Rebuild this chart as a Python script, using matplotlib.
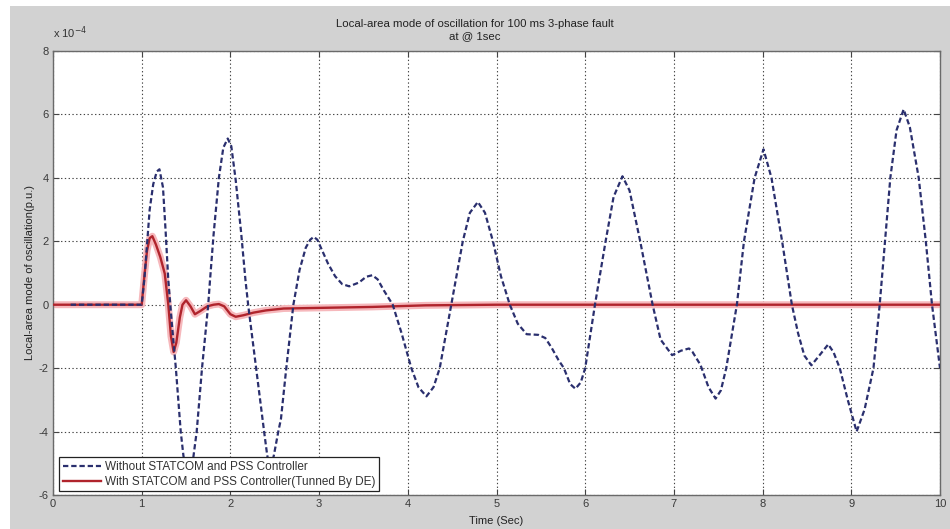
import matplotlib
matplotlib.use("Agg")
import matplotlib.pyplot as plt
from matplotlib.patches import Rectangle
from matplotlib.ticker import FuncFormatter

plt.rcParams['font.family'] = ['Liberation Sans', 'DejaVu Sans']

SCALE = 1e-4

# Without STATCOM and PSS Controller (values in units of 1e-4 p.u.)
t_without = [0.2, 1.0, 1.03, 1.06, 1.09, 1.13, 1.17, 1.20, 1.24, 1.27, 1.30, 1.34, 1.385,
             1.44, 1.47, 1.50, 1.53, 1.56, 1.585, 1.62, 1.68, 1.75, 1.77, 1.81, 1.87,
             1.92, 1.97, 2.01, 2.06, 2.12, 2.17, 2.20, 2.29, 2.38, 2.415, 2.45, 2.49,
             2.54, 2.57, 2.63, 2.71, 2.78, 2.85, 2.90, 2.94, 2.98, 3.02, 3.10, 3.18,
             3.26, 3.34, 3.45, 3.53, 3.60, 3.66, 3.73, 3.83, 3.93, 4.04, 4.12, 4.21,
             4.29, 4.36, 4.49, 4.62, 4.70, 4.79, 4.87, 4.96, 5.05, 5.15, 5.24, 5.34,
             5.47, 5.55, 5.62, 5.70, 5.76, 5.83, 5.89, 5.95, 6.00, 6.11, 6.23, 6.32,
             6.42, 6.50, 6.62, 6.76, 6.85, 6.98, 7.08, 7.17, 7.21, 7.30, 7.39, 7.47,
             7.53, 7.59, 7.71, 7.79, 7.91, 8.01, 8.10, 8.22, 8.33, 8.40, 8.47, 8.55,
             8.64, 8.74, 8.80, 8.87, 8.96, 9.06, 9.15, 9.25, 9.32, 9.38, 9.44, 9.51,
             9.59, 9.66, 9.76, 9.84, 9.91, 10.0]
y_without = [0.0, 0.0, 0.8, 1.9, 3.0, 3.8, 4.2, 4.27, 3.7, 2.3, 0.77, -0.6, -2.0,
             -4.0, -4.75, -5.3, -5.5, -5.3, -4.75, -4.0, -2.0, 0.0, 0.77, 2.2, 4.0,
             4.95, 5.24, 5.0, 3.92, 2.3, 0.77, 0.0, -2.0, -4.0, -4.75, -5.2, -4.75,
             -4.0, -3.6, -2.0, 0.0, 1.1, 1.8, 2.05, 2.14, 2.05, 1.8, 1.3, 0.9,
             0.65, 0.58, 0.7, 0.88, 0.93, 0.8, 0.45, 0.0, -0.9, -2.0, -2.6, -2.89,
             -2.6, -2.0, 0.0, 2.0, 2.9, 3.24, 2.9, 2.0, 0.9, 0.0, -0.6, -0.93,
             -0.95, -1.05, -1.35, -1.75, -2.0, -2.5, -2.65, -2.45, -2.0, 0.0, 2.0, 3.4,
             4.05, 3.6, 2.0, 0.0, -1.1, -1.59, -1.45, -1.38, -1.49, -1.9, -2.6, -2.96,
             -2.7, -2.0, 0.0, 2.0, 4.0, 4.9, 4.0, 2.0, 0.0, -0.9, -1.6, -1.91,
             -1.6, -1.25, -1.5, -2.0, -3.0, -4.0, -3.3, -2.0, 0.0, 2.0, 4.0, 5.5,
             6.16, 5.6, 4.0, 2.0, 0.0, -2.0]

# With STATCOM and PSS Controller (Tunned By DE)
t_with = [0.0, 1.0, 1.03, 1.06, 1.09, 1.12, 1.16, 1.21, 1.26, 1.30, 1.33, 1.36, 1.39,
          1.43, 1.46, 1.50, 1.55, 1.60, 1.66, 1.74, 1.81, 1.87, 1.93, 2.00, 2.06,
          2.15, 2.26, 2.40, 2.60, 3.00, 3.60, 4.20, 5.00, 10.0]
y_with = [0.0, 0.0, 0.9, 1.7, 2.1, 2.16, 1.9, 1.5, 0.98, 0.0, -1.0, -1.49, -1.2,
          -0.4, 0.0, 0.14, -0.05, -0.3, -0.2, -0.05, 0.0, 0.02, -0.05, -0.3, -0.38,
          -0.33, -0.25, -0.18, -0.12, -0.1, -0.07, -0.02, 0.0, 0.0]

labels = ["Without STATCOM and PSS Controller",
          "With STATCOM and PSS Controller(Tunned By DE)"]
title = "Local-area mode of oscillation for 100 ms 3-phase fault\nat @ 1sec"
xlabel = "Time (Sec)"
ylabel = "Local-area mode of oscillation(p.u.)"
x_ticks = list(range(0, 11))
y_ticks = [-6, -4, -2, 0, 2, 4, 6, 8]

W, H = 950, 529
fig = plt.figure(figsize=(W / 100, H / 100), dpi=100, facecolor='white')
fig.patches.append(Rectangle((10 / W, 0), 1 - 10 / W, 1 - 6 / H, transform=fig.transFigure,
                             facecolor='#d2d2d2', edgecolor='none', zorder=-10))

ax = fig.add_axes([53 / W, 1 - 495 / H, (940 - 53) / W, (495 - 51) / H])
ax.set_zorder(1)
ax.set_facecolor('white')

yw = [v * SCALE for v in y_without]
yr = [v * SCALE for v in y_with]

ax.plot(t_with, yr, color='#f6b8bc', lw=5, solid_capstyle='round', zorder=2)
l2, = ax.plot(t_with, yr, color='#b0242c', lw=1.7, zorder=3)
l1, = ax.plot(t_without, yw, color='#2a2f6e', lw=1.6, ls=(0, (2.4, 1.3)), zorder=4)

ax.set_xlim(0, 10)
ax.set_ylim(-6 * SCALE, 8 * SCALE)
ax.set_xticks(x_ticks)
ax.set_yticks([v * SCALE for v in y_ticks])
ax.xaxis.set_major_formatter(FuncFormatter(lambda v, p: f"{v:g}"))
ax.yaxis.set_major_formatter(FuncFormatter(lambda v, p: f"{v / SCALE:.0f}"))
ax.tick_params(direction='in', length=4, width=0.8, top=True, right=True,
               labelsize=8, colors='#444444', labelcolor='#3a3a3a', pad=3)
ax.grid(True, color='#444444', ls=(0, (1.2, 2.2)), lw=0.8)
for s in ax.spines.values():
    s.set_color('#6a6a6a')
    s.set_linewidth(1.0)

ax.text(0.0, 1.022, r"x 10$^{-4}$", transform=ax.transAxes, fontsize=8,
        color='#333333', ha='left', va='bottom')

fig.text(0.5, 1 - 30 / H, title, ha='center', va='center', fontsize=8.2,
         color='#222222', linespacing=1.3)
ax.set_xlabel(xlabel, fontsize=8, color='#222222', labelpad=5)
ax.set_ylabel(ylabel, fontsize=8, color='#222222', labelpad=3)

leg = ax.legend([l1, l2], labels, loc='lower left', bbox_to_anchor=(0.007, 0.008),
                fontsize=8.5, frameon=True, fancybox=False, framealpha=1,
                edgecolor='#222222', borderpad=0.3, handlelength=3.2,
                labelspacing=0.25, handletextpad=0.4, borderaxespad=0)
leg.get_frame().set_linewidth(0.9)
for t in leg.get_texts():
    t.set_color('#333333')

fig.savefig("out.png", dpi=100, facecolor=fig.get_facecolor())
